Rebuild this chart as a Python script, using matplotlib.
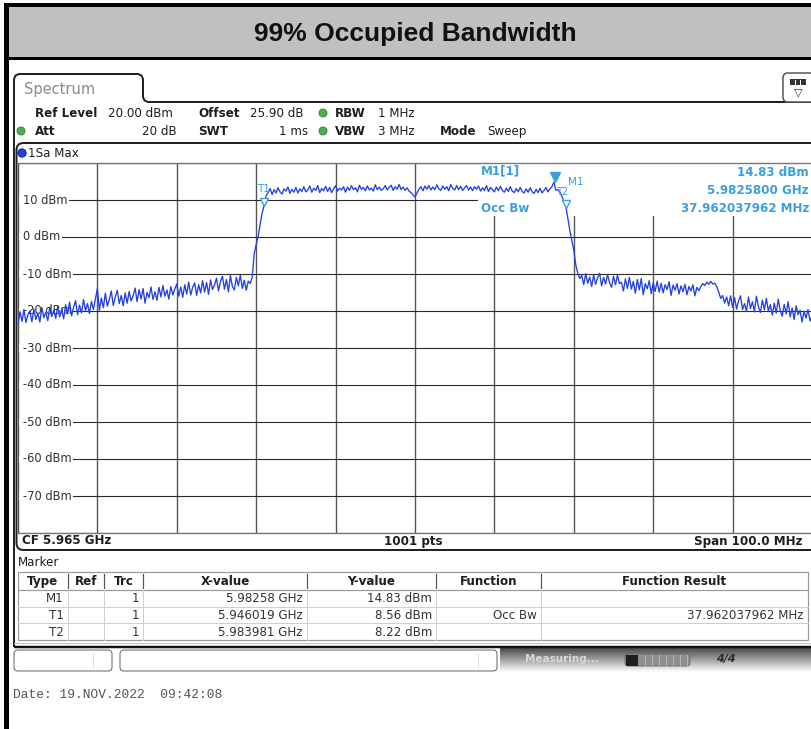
import numpy as np
import matplotlib
matplotlib.use("Agg")
import matplotlib.pyplot as plt
from matplotlib.patches import Rectangle, FancyBboxPatch, Circle
from matplotlib.path import Path
from matplotlib.patches import PathPatch
import matplotlib.transforms as mtransforms

# ---------------- data ----------------
title_text = "99% Occupied Bandwidth"
center_freq_ghz = 5.965
span_mhz = 100.0
ref_level_dbm = 20.0
display_range_db = 100.0
n_points_label = "1001 pts"
y_tick_values = [10, 0, -10, -20, -30, -40, -50, -60, -70]

skirt_left = [
    -23.5, -20.2, -22.8, -19.6, -23.1, -21.0, -20.0, -22.9, -19.4, -22.3, -20.6, -23.0, -19.1, -21.8, -20.3, -22.6, -18.9, -21.5, -19.8, -22.0,
    -18.7, -21.6, -19.5, -22.1, -18.3, -20.8, -17.6, -21.3, -19.0, -17.2, -21.0, -18.4, -20.5, -16.9, -19.9, -18.0, -20.7, -17.4, -19.6, -16.8,
    -13.9, -19.8, -16.5, -19.1, -15.2, -18.7, -16.9, -14.6, -18.5, -16.2, -14.4, -18.0, -15.8, -18.6, -15.1, -17.9, -14.7, -17.3, -15.9, -13.8,
    -17.5, -14.2, -16.8, -13.9, -17.9, -15.0, -16.4, -13.5, -16.9, -14.8, -17.1, -13.6, -16.2, -13.1, -16.0, -14.3, -16.8, -13.4, -15.7, -14.0,
    -12.7, -16.0, -13.5, -16.3, -12.9, -15.4, -12.2, -15.7, -13.6, -12.4, -15.8, -12.9, -15.1, -11.8, -14.9, -12.3, -15.5, -11.6, -14.2, -13.0,
    -11.1, -14.6, -12.0, -10.6, -14.1, -11.5, -14.8, -10.4, -13.4, -14.3, -10.9, -13.2, -10.3, -13.9, -11.7, -14.4, -11.9, -12.6, -10.8,
]
rise = [-4.5, -2.0, 0.2, 3.5, 6.5, 8.56, 11.2]
plateau = [
    12.0, 13.1, 11.5, 12.8, 11.9, 13.3, 12.2, 11.6, 13.0, 12.4, 13.5, 11.8, 12.9, 12.1, 13.4, 11.9, 13.0, 12.3, 13.6, 12.2,
    12.7, 13.8, 12.1, 13.2, 12.6, 13.9, 12.0, 13.1, 12.5, 13.7, 12.3, 13.4, 12.0, 13.0, 13.9, 12.4, 13.2, 12.7, 13.6, 12.1,
    13.5, 12.6, 13.9, 12.8, 13.3, 12.2, 14.0, 12.9, 13.4, 12.5, 13.8, 12.7, 13.2, 12.4, 14.1, 12.8, 13.5, 12.6, 13.0, 13.9,
    12.7, 13.4, 14.0, 12.6, 13.6, 12.9, 14.2, 12.8, 13.5, 12.6, 13.3, 12.4, 12.0, 11.4, 10.8, 11.9, 12.9, 13.6, 12.5, 13.8,
    12.9, 13.9, 12.7, 13.5, 12.8, 14.1, 13.0, 12.6, 13.8, 12.9, 13.6, 12.5, 14.2, 13.1, 12.7, 13.9, 12.8, 13.7, 12.6, 13.3,
    13.9, 12.7, 13.5, 12.5, 13.6, 12.9, 13.8, 12.4, 13.3, 12.6, 13.9, 12.3, 13.4, 12.8, 12.2, 13.5, 12.5, 13.7, 12.6, 12.1,
    13.2, 12.3, 13.6, 12.4, 12.0, 13.1, 12.2, 13.4, 12.3, 11.9, 13.0, 12.1, 13.3, 12.2, 11.8, 12.9, 12.0, 13.2, 11.9, 12.6,
    13.4, 12.2, 13.0, 13.6,
]
peak = [14.83]
fall = [12.6, 12.8, 12.1, 11.0, 9.6, 8.22, 5.0, 1.8, -1.0, -3.5, -7.5, -9.8, -11.2]
skirt_right_near = [
    -10.4, -12.9, -9.9, -12.5, -10.8, -13.4, -10.2, -12.8, -11.0, -9.8, -13.2, -10.9, -12.7, -10.1, -12.3, -13.6, -10.6, -12.9, -10.3, -12.6,
]
skirt_right_mid = [
    -12.2, -14.6, -11.3, -13.9, -10.9, -14.1, -12.0, -15.2, -11.5, -14.3, -11.2, -15.6, -12.6, -14.0, -11.8, -15.3, -12.4, -14.7, -11.9, -14.9,
    -12.5, -15.1, -12.9, -14.2, -12.1, -15.8, -13.0, -14.4, -12.6, -15.4, -13.2, -14.8, -12.8, -15.6, -13.4, -14.6, -12.9, -15.9, -13.6, -14.5,
]
hump = [-13.4, -12.6, -13.1, -12.2, -12.8, -12.0, -12.7, -12.5, -13.4]
drop = [-14.9, -16.6, -15.8, -17.9, -16.2, -18.6, -15.9, -19.0]
skirt_right_far = [
    -16.4, -19.5, -17.2, -15.9, -19.6, -18.0, -20.1, -16.2, -19.3, -17.5, -20.2, -16.0, -18.8, -20.4, -17.1, -19.7, -16.6, -20.0, -18.3, -21.1,
    -17.9, -20.6, -16.8, -19.9, -21.4, -18.2, -20.8, -17.5, -21.6, -19.2, -22.3, -18.6, -21.0, -19.8, -23.0, -20.1, -21.9, -19.6, -22.7, -21.2,
]

marker_names = ["M1", "T1", "T2"]
marker_freqs_ghz = [5.98258, 5.946019, 5.983981]
marker_levels_dbm = [14.83, 8.56, 8.22]
marker_x_text = ["5.98258 GHz", "5.946019 GHz", "5.983981 GHz"]
marker_y_text = ["14.83 dBm", "8.56 dBm", "8.22 dBm"]
marker_trc = ["1", "1", "1"]
marker_function = ["", "Occ Bw", ""]
marker_result = ["", "37.962037962 MHz", ""]
table_headers = ["Type", "Ref", "Trc", "X-value", "Y-value", "Function", "Function Result"]

info_left = ["M1[1]", "Occ Bw"]
info_right = ["14.83 dBm", "5.9825800 GHz", "37.962037962 MHz"]

date_text = "Date: 19.NOV.2022  09:42:08"

# ---------------- figure ----------------
W, H = 812, 729
fig = plt.figure(figsize=(W / 100, H / 100), dpi=100)
fig.patch.set_facecolor("white")

UI = "DejaVu Sans"
TXT = "#1e1e1e"
INFO = "#3a9fe0"
TRACE = "#2340e6"
GREEN = "#4cb050"


def frac(x0, y0, x1, y1):
    return [x0 / W, 1 - y1 / H, (x1 - x0) / W, (y1 - y0) / H]


def px(p):
    return p * 0.72


ov = fig.add_axes([0, 0, 1, 1])
ov.set_xlim(0, W)
ov.set_ylim(H, 0)
ov.axis("off")

# outer frame + title band
ov.add_patch(Rectangle((8, 7), W, 50, facecolor="#c0c0c0", edgecolor="none"))
ov.plot([4, W], [5, 5], color="black", lw=px(4), solid_capstyle="butt")
ov.plot([6.5, 6.5], [3, H], color="black", lw=px(5), solid_capstyle="butt")
ov.plot([6, W], [58, 58], color="black", lw=px(3), solid_capstyle="butt")
ov.text(415, 34, title_text, ha="center", va="center", fontsize=19,
        fontweight="bold", family="Liberation Sans", color="#111")

# spectrum tab and panel outline
tab = [(14, 647), (14, 79), (15.5, 75.5), (19, 74), (138, 74), (141.5, 75.5),
       (143, 79), (143, 97), (144.5, 100.5), (148, 102), (W + 5, 102)]
ov.add_patch(PathPatch(Path(tab), facecolor="none", edgecolor="#222", lw=px(2)))
ov.text(24, 89, "Spectrum", ha="left", va="center", fontsize=10.5, family=UI, color="#8c8c8c")
ov.add_patch(FancyBboxPatch((783, 73), 40, 29, boxstyle="round,pad=0,rounding_size=5",
                            facecolor="white", edgecolor="#555", lw=px(1.5)))
ov.add_patch(Rectangle((790, 79), 16, 6, facecolor="#333", edgecolor="none"))
for xx in (795, 800):
    ov.plot([xx, xx], [80, 84], color="white", lw=px(1))
ov.text(798, 92, "\u25BD", ha="center", va="center", fontsize=8, family=UI, color="#333")

# header settings
FS = 8.6
row1, row2 = 113, 131
ov.text(35, row1, "Ref Level", fontsize=FS, fontweight="bold", family=UI, color=TXT, va="center")
ov.text(108, row1, "20.00 dBm", fontsize=FS, family=UI, color=TXT, va="center")
ov.text(198, row1, "Offset", fontsize=FS, fontweight="bold", family=UI, color=TXT, va="center")
ov.text(250, row1, "25.90 dB", fontsize=FS, family=UI, color=TXT, va="center")
ov.text(335, row1, "RBW", fontsize=FS, fontweight="bold", family=UI, color=TXT, va="center")
ov.text(378, row1, "1 MHz", fontsize=FS, family=UI, color=TXT, va="center")
ov.text(35, row2, "Att", fontsize=FS, fontweight="bold", family=UI, color=TXT, va="center")
ov.text(177, row2, "20 dB", fontsize=FS, family=UI, color=TXT, va="center", ha="right")
ov.text(198, row2, "SWT", fontsize=FS, fontweight="bold", family=UI, color=TXT, va="center")
ov.text(308, row2, "1 ms", fontsize=FS, family=UI, color=TXT, va="center", ha="right")
ov.text(335, row2, "VBW", fontsize=FS, fontweight="bold", family=UI, color=TXT, va="center")
ov.text(378, row2, "3 MHz", fontsize=FS, family=UI, color=TXT, va="center")
ov.text(440, row2, "Mode", fontsize=FS, fontweight="bold", family=UI, color=TXT, va="center")
ov.text(487, row2, "Sweep", fontsize=FS, family=UI, color=TXT, va="center")
for (cx, cy) in [(323, row1), (323, row2), (21, row2)]:
    ov.add_patch(Circle((cx, cy), 4, facecolor=GREEN, edgecolor="#2e7d32", lw=px(0.8)))

# plot box
ov.add_patch(FancyBboxPatch((16.5, 143), W + 20, 407, boxstyle="round,pad=0,rounding_size=7",
                            facecolor="white", edgecolor="#222", lw=px(2)))
ov.add_patch(Circle((22, 153), 4.2, facecolor="#1f3fe0", edgecolor="#0b1f9a", lw=px(0.8)))
ov.text(28, 153, "1Sa Max", fontsize=FS, family=UI, color=TXT, va="center")
ov.text(22, 541, "CF 5.965 GHz", fontsize=FS, fontweight="bold", family=UI, color=TXT, va="center")
ov.text(413, 541, n_points_label, fontsize=FS, fontweight="bold", family=UI, color=TXT, va="center", ha="center")
ov.text(803, 541, "Span 100.0 MHz", fontsize=FS, fontweight="bold", family=UI, color=TXT, va="center", ha="right")

# marker table
ov.text(18, 562, "Marker", fontsize=FS, family=UI, color=TXT, va="center")
col_edges = [18, 68, 104, 143, 307, 436, 541, 808]
row_edges = [572, 590, 607, 623, 640]
ov.add_patch(Rectangle((col_edges[0], row_edges[0]), col_edges[-1] - col_edges[0],
                       row_edges[-1] - row_edges[0], facecolor="white", edgecolor="#9a9a9a", lw=px(1.2)))
for yy in row_edges[2:-1]:
    ov.plot([col_edges[0], col_edges[-1]], [yy, yy], color="#cfcfcf", lw=px(1))
ov.plot([col_edges[0], col_edges[-1]], [row_edges[1], row_edges[1]], color="#9a9a9a", lw=px(1.2))
for xx in col_edges[1:-1]:
    ov.plot([xx, xx], [row_edges[0] + 2, row_edges[1] - 2], color="#555", lw=px(1.2))
    ov.plot([xx, xx], [row_edges[1], row_edges[-1]], color="#cfcfcf", lw=px(1))
for j, h in enumerate(table_headers):
    ov.text((col_edges[j] + col_edges[j + 1]) / 2, (row_edges[0] + row_edges[1]) / 2 + 0.5, h,
            fontsize=FS, fontweight="bold", family=UI, color=TXT, ha="center", va="center")
for r in range(3):
    yc = (row_edges[r + 1] + row_edges[r + 2]) / 2 + 0.5
    cells = [marker_names[r], "", marker_trc[r], marker_x_text[r], marker_y_text[r],
             marker_function[r], marker_result[r]]
    for j, c in enumerate(cells):
        if c:
            ov.text(col_edges[j + 1] - 4, yc, c, fontsize=FS, family=UI, color="#333",
                    ha="right", va="center")

# bottom status bar
ov.plot([14, W], [646.5, 646.5], color="#111", lw=px(2.5), solid_capstyle="butt")
ov.plot([14, W], [642.5, 642.5], color="#bdbdbd", lw=px(1))
grad = np.linspace(0.30, 0.99, 30)[:, None]
ov.imshow(grad, extent=(500, W, 672, 648), aspect="auto", cmap="gray", vmin=0, vmax=1,
          interpolation="bilinear", zorder=1)
ov.set_xlim(0, W)
ov.set_ylim(H, 0)
ov.add_patch(FancyBboxPatch((14, 650), 98, 21, boxstyle="round,pad=0,rounding_size=4",
                            facecolor="white", edgecolor="#666", lw=px(1), zorder=2))
ov.add_patch(FancyBboxPatch((120, 650), 377, 21, boxstyle="round,pad=0,rounding_size=4",
                            facecolor="white", edgecolor="#666", lw=px(1), zorder=2))
ov.plot([93, 93], [654, 667], color="#ddd", lw=px(1), zorder=3)
ov.plot([478, 478], [654, 667], color="#ddd", lw=px(1), zorder=3)
ov.text(525, 659, "Measuring...", fontsize=7.5, fontweight="bold", family=UI, color="#d8d8d8",
        va="center", zorder=3)
ov.add_patch(FancyBboxPatch((625, 654), 65, 12, boxstyle="round,pad=0,rounding_size=3",
                            facecolor="#8f8f8f", edgecolor="#666", lw=px(0.8), zorder=3))
ov.add_patch(Rectangle((626, 654.5), 12, 11, facecolor="#1e1e1e", edgecolor="none", zorder=4))
for xx in range(645, 690, 7):
    ov.plot([xx, xx], [655, 665], color="#b5b5b5", lw=px(1), zorder=4)
ov.text(716, 659, "4/4", fontsize=8, fontweight="bold", style="italic", family=UI, color="#2a2a2a",
        va="center", zorder=4)

ov.text(13, 695, date_text, fontsize=9.3, family="Liberation Mono", color="#555", va="center")

# ---------------- spectrum axes ----------------
ax = fig.add_axes(frac(18, 163, W, 533))
trace = np.array(skirt_left + rise + plateau + peak + fall + skirt_right_near
                 + skirt_right_mid + hump + drop + skirt_right_far)
f_start = center_freq_ghz - span_mhz / 2000.0
f_stop = center_freq_ghz + span_mhz / 2000.0
freqs = np.linspace(f_start, f_stop, len(trace))

ax.set_xlim(f_start, f_stop)
ax.set_ylim(ref_level_dbm - display_range_db, ref_level_dbm)
ax.set_xticks(np.linspace(f_start, f_stop, 11))
ax.set_yticks(np.arange(ref_level_dbm - display_range_db, ref_level_dbm + 1, 10))
ax.tick_params(length=0, labelbottom=False, labelleft=False)
ax.set_axisbelow(True)
ax.grid(True, axis="y", color="#2a2a2a", lw=0.8)
ax.grid(True, axis="x", color="#555555", lw=1.0)
for s in ("top", "bottom"):
    ax.spines[s].set_color("#777")
    ax.spines[s].set_linewidth(1.0)
ax.spines["left"].set_color("#555")
ax.spines["right"].set_visible(False)

blend = mtransforms.blended_transform_factory(ov.transData, ax.transData)
for v in y_tick_values:
    ax.add_patch(Rectangle((19, v - 1.2), 6, 2.4, transform=blend, facecolor="white",
                           edgecolor="none", zorder=1.9))
    ax.text(23, v, f"{v} dBm", transform=blend, ha="left", va="center", fontsize=8.3,
            family=UI, color="#333", zorder=2,
            bbox=dict(facecolor="white", edgecolor="none", boxstyle="square,pad=0.12"))

# white area behind the marker readout
box_f0 = f_start + (478 - 18) / 794 * (f_stop - f_start)
box_y0 = ref_level_dbm - (216 - 163) / 370 * display_range_db
ax.add_patch(Rectangle((box_f0, box_y0), f_stop - box_f0 + 0.01, ref_level_dbm - box_y0 + 1,
                       facecolor="white", edgecolor="none", zorder=1))

ax.plot(freqs, trace, color=TRACE, lw=0.95, zorder=3)

# markers
up5 = mtransforms.offset_copy(ax.transData, fig=fig, x=0, y=5, units="dots")
up3 = mtransforms.offset_copy(ax.transData, fig=fig, x=0, y=3, units="dots")
ax.plot([marker_freqs_ghz[0]], [marker_levels_dbm[0]], marker="v", ms=6.5, color=INFO,
        transform=up5, zorder=5, clip_on=False)
for k in (1, 2):
    ax.plot([marker_freqs_ghz[k]], [marker_levels_dbm[k]], marker="v", ms=5.5, mfc="white",
            mec=INFO, mew=1.0, transform=up3, zorder=5)
ax.annotate("T1", (marker_freqs_ghz[1], marker_levels_dbm[1]), xytext=(-1, 16),
            textcoords="offset pixels", ha="center", va="center", fontsize=7.5, family=UI,
            color=INFO, zorder=6)
ax.annotate("T2", (marker_freqs_ghz[2], marker_levels_dbm[2]), xytext=(-4, 15),
            textcoords="offset pixels", ha="center", va="center", fontsize=7.0, family=UI,
            color=INFO, zorder=6)
ax.annotate("M1", (marker_freqs_ghz[0], marker_levels_dbm[0]), xytext=(13, 0),
            textcoords="offset pixels", ha="left", va="center", fontsize=7.5, family=UI,
            color=INFO, zorder=6)

# readout texts on a top overlay
top = fig.add_axes([0, 0, 1, 1])
top.set_xlim(0, W)
top.set_ylim(H, 0)
top.axis("off")
top.patch.set_alpha(0)
top.text(481, 171, info_left[0], fontsize=8.6, family=UI, color=INFO, va="center", fontweight="semibold")
top.text(481, 208, info_left[1], fontsize=8.6, family=UI, color=INFO, va="center", fontweight="semibold")
for yy, t in zip((172, 190, 208), info_right):
    top.text(809, yy, t, fontsize=8.6, family=UI, color=INFO, va="center", ha="right", fontweight="bold")

fig.savefig("out.png", dpi=100)
